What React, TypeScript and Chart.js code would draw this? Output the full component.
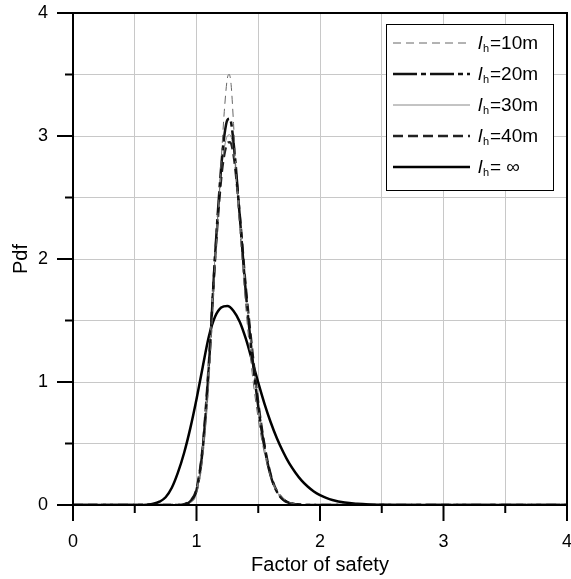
import React, { useEffect, useRef } from "react";
import { Chart, registerables } from "chart.js";
Chart.register(...registerables);

// ---- data ----
const xMajorTicks = [0, 1, 2, 3, 4];
const yMajorTicks = [0, 1, 2, 3, 4];
const xTitle = "Factor of safety";
const yTitle = "Pdf";
const legendSuffixes = ["=10m", "=20m", "=30m", "=40m", "= ∞"];

const xNarrow10 = [0, 0.85, 0.9, 0.95, 1.0, 1.05, 1.1, 1.15, 1.2, 1.225, 1.25, 1.265, 1.28, 1.3, 1.325, 1.35, 1.4, 1.45, 1.5, 1.55, 1.6, 1.65, 1.7, 1.75, 1.8, 1.9, 4];
const y10 = [0, 0, 0.005, 0.02, 0.09, 0.38, 1.0, 1.95, 2.8, 3.2, 3.47, 3.5, 3.42, 3.1, 2.62, 2.25, 1.6, 1.08, 0.7, 0.42, 0.23, 0.12, 0.055, 0.022, 0.008, 0, 0];

const xNarrow = [0, 0.85, 0.9, 0.95, 1.0, 1.05, 1.1, 1.15, 1.2, 1.225, 1.25, 1.27, 1.3, 1.35, 1.4, 1.45, 1.5, 1.55, 1.6, 1.65, 1.7, 1.75, 1.8, 1.9, 4];
const y20 = [0, 0, 0.005, 0.03, 0.12, 0.45, 1.12, 2.02, 2.75, 3.0, 3.13, 3.14, 2.95, 2.35, 1.72, 1.22, 0.8, 0.47, 0.24, 0.11, 0.045, 0.017, 0.006, 0, 0];
const y30 = [0, 0, 0.005, 0.03, 0.12, 0.46, 1.15, 2.03, 2.7, 2.9, 3.0, 3.01, 2.88, 2.35, 1.73, 1.24, 0.81, 0.47, 0.24, 0.11, 0.045, 0.017, 0.006, 0, 0];
const y40 = [0, 0, 0.006, 0.035, 0.13, 0.47, 1.15, 2.0, 2.66, 2.85, 2.94, 2.95, 2.85, 2.36, 1.76, 1.27, 0.83, 0.49, 0.25, 0.115, 0.048, 0.018, 0.006, 0, 0];

const xWide = [0, 0.55, 0.6, 0.65, 0.7, 0.75, 0.8, 0.85, 0.9, 0.95, 1.0, 1.05, 1.1, 1.15, 1.2, 1.25, 1.3, 1.35, 1.4, 1.45, 1.5, 1.55, 1.6, 1.65, 1.7, 1.75, 1.8, 1.85, 1.9, 1.95, 2.0, 2.05, 2.1, 2.2, 2.3, 2.4, 2.5, 2.6, 2.8, 4];
const yInf = [0, 0, 0.003, 0.01, 0.027, 0.063, 0.14, 0.265, 0.425, 0.625, 0.86, 1.12, 1.37, 1.53, 1.605, 1.618, 1.578, 1.49, 1.35, 1.175, 0.995, 0.825, 0.675, 0.545, 0.435, 0.34, 0.265, 0.2, 0.15, 0.11, 0.08, 0.058, 0.041, 0.02, 0.01, 0.0045, 0.002, 0.0008, 0, 0];

const FONT = "'Liberation Sans', Arial, sans-serif";

const pts = (xs: number[], ys: number[]) => xs.map((x, i) => ({ x, y: ys[i] }));

const seriesStyles = [
  { color: "#666666", width: 1, dash: [8, 5] },
  { color: "#111111", width: 2.5, dash: [24, 4, 5, 4] },
  { color: "#888888", width: 1, dash: [] as number[] },
  { color: "#222222", width: 2.5, dash: [10, 5] },
  { color: "#000000", width: 2.5, dash: [] as number[] },
];

const framePlugin = {
  id: "frameTicks",
  afterDatasetsDraw(chart: any) {
    const { ctx, chartArea, scales } = chart;
    const { left, right, top, bottom } = chartArea;
    ctx.save();
    ctx.strokeStyle = "#000";
    ctx.lineWidth = 2;
    ctx.strokeRect(left, top, right - left, bottom - top);
    const drawX = (v: number, len: number) => {
      const px = scales.x.getPixelForValue(v);
      ctx.beginPath();
      ctx.moveTo(px, bottom);
      ctx.lineTo(px, bottom + len);
      ctx.stroke();
    };
    const drawY = (v: number, len: number) => {
      const py = scales.y.getPixelForValue(v);
      ctx.beginPath();
      ctx.moveTo(left - len, py);
      ctx.lineTo(left, py);
      ctx.stroke();
    };
    xMajorTicks.forEach((v, i) => {
      drawX(v, 16);
      if (i < xMajorTicks.length - 1) drawX((v + xMajorTicks[i + 1]) / 2, 8);
    });
    yMajorTicks.forEach((v, i) => {
      drawY(v, 16);
      if (i < yMajorTicks.length - 1) drawY((v + yMajorTicks[i + 1]) / 2, 8);
    });
    ctx.restore();
  },
};

const legendPlugin = {
  id: "customLegend",
  afterDraw(chart: any) {
    const { ctx } = chart;
    const bx = 386, by = 24, bw = 167, bh = 166;
    ctx.save();
    ctx.fillStyle = "#fff";
    ctx.fillRect(bx, by, bw, bh);
    ctx.strokeStyle = "#000";
    ctx.lineWidth = 1;
    ctx.strokeRect(bx + 0.5, by + 0.5, bw, bh);
    legendSuffixes.forEach((suffix, i) => {
      const cy = 43 + i * 31;
      const st = seriesStyles[i];
      ctx.beginPath();
      ctx.strokeStyle = st.color;
      ctx.lineWidth = st.width;
      ctx.setLineDash(st.dash);
      ctx.moveTo(393, cy);
      ctx.lineTo(470, cy);
      ctx.stroke();
      ctx.setLineDash([]);
      ctx.fillStyle = "#000";
      ctx.textBaseline = "alphabetic";
      ctx.textAlign = "left";
      const base = cy + 6;
      ctx.font = `italic 19px ${FONT}`;
      ctx.fillText("l", 478, base);
      ctx.font = `11px ${FONT}`;
      ctx.fillText("h", 483, base + 3);
      ctx.font = `19px ${FONT}`;
      ctx.fillText(suffix, 490, base);
    });
    ctx.restore();
  },
};

const zeroPad = (s: any) => {
  s.paddingLeft = 0;
  s.paddingRight = 0;
  s.paddingTop = 0;
  s.paddingBottom = 0;
};

export default function App() {
  const ref = useRef<HTMLCanvasElement>(null);
  useEffect(() => {
    if (!ref.current) return;
    Chart.defaults.font.family = FONT;
    Chart.defaults.color = "#000";
    const ySets = [y10, y20, y30, y40, yInf];
    const xSets = [xNarrow10, xNarrow, xNarrow, xNarrow, xWide];
    const chart = new Chart(ref.current, {
      type: "line",
      data: {
        datasets: ySets.map((ys, i) => ({
          label: "lh" + legendSuffixes[i],
          data: pts(xSets[i], ys),
          borderColor: seriesStyles[i].color,
          borderWidth: seriesStyles[i].width,
          borderDash: seriesStyles[i].dash,
          pointRadius: 0,
          fill: false,
          cubicInterpolationMode: "monotone" as const,
        })),
      },
      options: {
        responsive: false,
        animation: false,
        devicePixelRatio: 1,
        layout: { padding: { left: 0, right: 4, top: 13, bottom: 0 }, autoPadding: false },
        plugins: { legend: { display: false }, tooltip: { enabled: false } },
        scales: {
          x: {
            type: "linear",
            min: 0,
            max: 4,
            afterFit: (s: any) => { s.height = 74; zeroPad(s); },
            ticks: {
              stepSize: 0.5,
              autoSkip: false,
              maxRotation: 0,
              padding: 26,
              color: "#000",
              font: { size: 18, family: FONT },
              callback: (v: any) => (Number.isInteger(v) ? String(v) : ""),
            },
            grid: { color: "#c8c8c8", lineWidth: 1, drawTicks: false },
            border: { display: false },
            title: { display: true, text: xTitle, color: "#000", font: { size: 20, family: FONT }, padding: { top: 0, bottom: 2 } },
          },
          y: {
            type: "linear",
            min: 0,
            max: 4,
            afterFit: (s: any) => { s.width = 73; zeroPad(s); },
            ticks: {
              stepSize: 0.5,
              autoSkip: false,
              padding: 25,
              color: "#000",
              font: { size: 18, family: FONT },
              callback: (v: any) => (Number.isInteger(v) ? String(v) : ""),
            },
            grid: { color: "#c8c8c8", lineWidth: 1, drawTicks: false },
            border: { display: false },
            title: { display: true, text: yTitle, color: "#000", font: { size: 20, family: FONT }, padding: { top: 9, bottom: 0 } },
          },
        },
      },
      plugins: [framePlugin, legendPlugin],
    });
    return () => chart.destroy();
  }, []);
  return (
    <div style={{ position: "absolute", left: 0, top: 0, width: 571, height: 579 }}>
      <canvas ref={ref} width={571} height={579} style={{ width: 571, height: 579 }} />
    </div>
  );
}
